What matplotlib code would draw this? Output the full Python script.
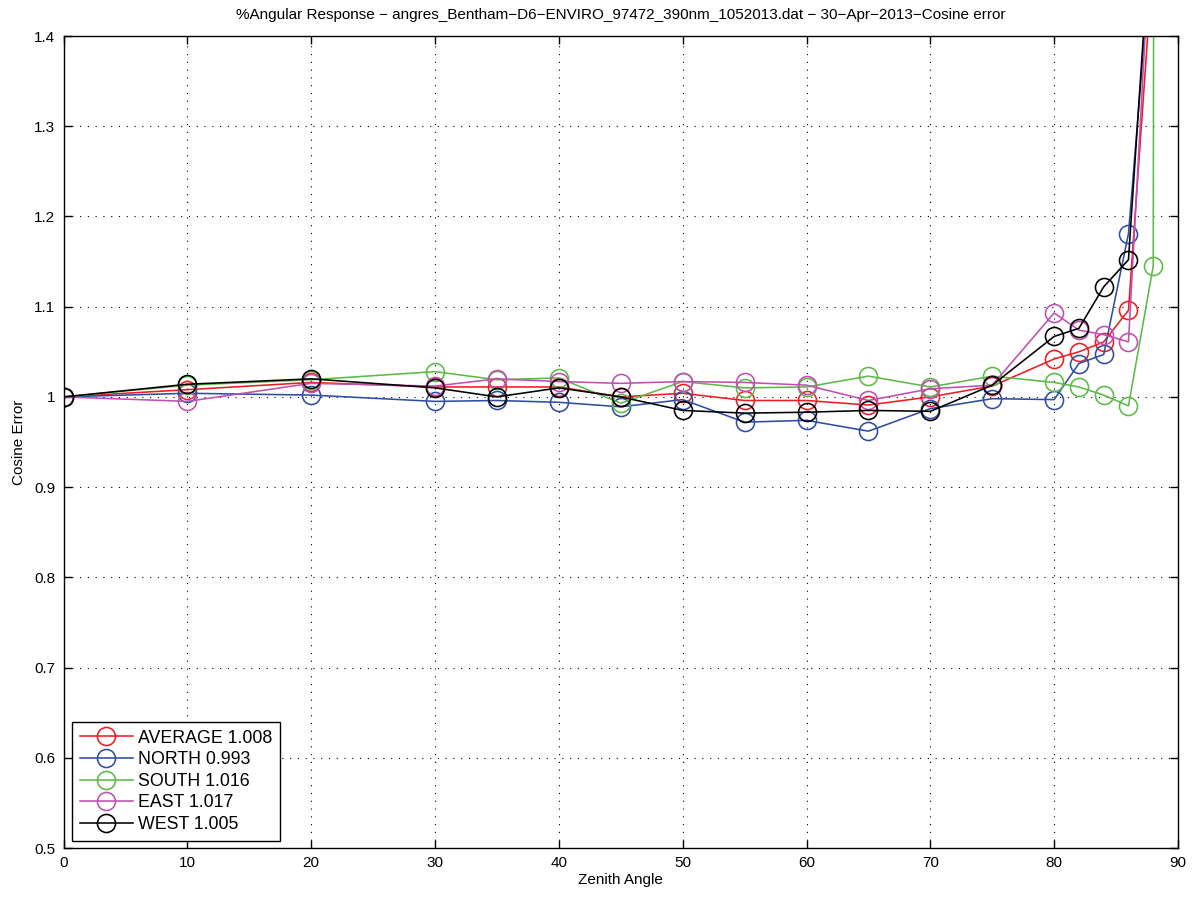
import matplotlib
matplotlib.use("Agg")
import matplotlib.pyplot as plt
from matplotlib.ticker import MultipleLocator, FuncFormatter

plt.rcParams['font.family'] = ['Liberation Sans', 'DejaVu Sans']

angles = [0, 10, 20, 30, 35, 40, 45, 50, 55, 60, 65, 70, 75, 80, 82, 84, 86, 88, 90]

average = [1.000, 1.008, 1.016, 1.011, 1.011, 1.011, 1.000, 1.004, 0.996, 0.996, 0.991, 1.000, 1.012,
           1.042, 1.050, 1.061, 1.096, 1.488, 20.0]
north = [1.000, 1.004, 1.002, 0.995, 0.996, 0.994, 0.989, 0.997, 0.972, 0.974, 0.962, 0.987, 0.998,
         0.997, 1.037, 1.047, 1.181, 1.518, 20.0]
south = [1.000, 1.013, 1.019, 1.028, 1.019, 1.021, 0.993, 1.017, 1.010, 1.011, 1.023, 1.011, 1.023,
         1.016, 1.011, 1.002, 0.990, 1.145, 20.0]
east = [1.000, 0.995, 1.015, 1.012, 1.020, 1.017, 1.015, 1.017, 1.016, 1.013, 0.996, 1.009, 1.013,
        1.093, 1.074, 1.069, 1.061, 1.567, 20.0]
west = [1.000, 1.014, 1.020, 1.010, 1.000, 1.010, 1.000, 0.985, 0.982, 0.983, 0.985, 0.984, 1.013,
        1.067, 1.076, 1.122, 1.152, 1.565, 20.0]

labels = ["AVERAGE 1.008", "NORTH 0.993", "SOUTH 1.016", "EAST 1.017", "WEST 1.005"]
colors = ["#ee1c25", "#2f4ea2", "#5cba47", "#c04fb1", "#000000"]
series = [average, north, south, east, west]

title = "%Angular Response \u2212 angres_Bentham\u2212D6\u2212ENVIRO_97472_390nm_1052013.dat \u2212 30\u2212Apr\u22122013\u2212Cosine error"

fig = plt.figure(figsize=(11.97, 8.99), dpi=100)
ax = fig.add_axes([63.5/1197, 1 - 848/899, (1178 - 63.5)/1197, (848 - 36)/899])

for vals, lab, col in zip(series, labels, colors):
    ax.plot(angles, vals, color=col, lw=1.15, marker='o', markersize=13,
            markerfacecolor='none', markeredgecolor=col, markeredgewidth=1.15, label=lab)

ax.set_xlim(0, 90)
ax.set_ylim(0.5, 1.4)
ax.xaxis.set_major_locator(MultipleLocator(10))
ax.yaxis.set_major_locator(MultipleLocator(0.1))

def yfmt(v, pos):
    s = f"{v:.1f}"
    if s.endswith(".0"):
        s = s[:-2]
    return s
ax.yaxis.set_major_formatter(FuncFormatter(yfmt))

ax.grid(True, linestyle=(0, (1, 6)), color='black', linewidth=0.8)
ax.tick_params(direction='in', top=True, right=True, length=6, width=1.0, labelsize=11, pad=6)
for sp in ax.spines.values():
    sp.set_linewidth(1.0)

ax.set_xlabel("Zenith Angle", fontsize=11, labelpad=2)
ax.set_ylabel("Cosine Error", fontsize=11, labelpad=6)
ax.set_title(title, fontsize=11, pad=12)

leg = ax.legend(loc='lower left', bbox_to_anchor=(8/1114.5, 7/812), fontsize=12.8,
                fancybox=False, framealpha=1, edgecolor='black', borderaxespad=0,
                handlelength=3.0, handletextpad=0.3, labelspacing=0.26, borderpad=0.45)
leg.get_frame().set_linewidth(1.0)

fig.savefig("out.png", dpi=100)
